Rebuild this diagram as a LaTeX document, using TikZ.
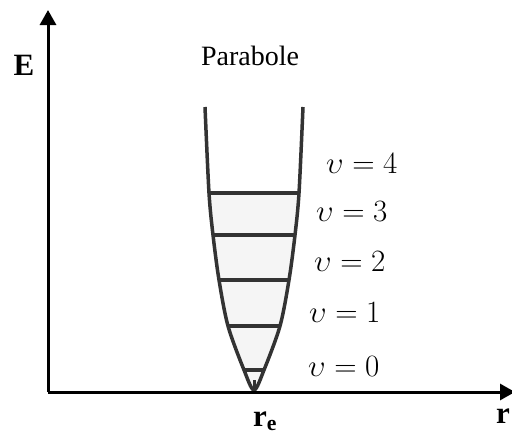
\RequirePackage{fix-cm}
\documentclass[tikz,border=0pt]{standalone}
\usepackage{fontspec}
\setmainfont{Liberation Serif}
\usepackage{tikz}
\usetikzlibrary{arrows.meta}
\tikzstyle{axis}=[line width=3pt, -{Triangle[length=15pt,width=16pt]}]
\tikzstyle{well}=[line width=3.5pt, color=black!80, line join=round]
\tikzstyle{level}=[line width=3.5pt, color=black!80]
\tikzstyle{vlabel}=[anchor=base west, inner sep=0pt, font=\fontsize{31}{33}\selectfont]
\tikzstyle{axlabel}=[inner sep=0pt, font=\fontsize{31}{33}\selectfont\bfseries]

\begin{document}
\begin{tikzpicture}[x=1pt, y=-1pt]
  \useasboundingbox (0,0) rectangle (512,437);
  % axes
  \coordinate (O) at (48,392);
  \coordinate (Etip) at (48,10);
  \coordinate (rtip) at (515,392);
  % light fill between the levels
  \fill[black!4] (209,193) -- (213,235) -- (219,280) -- (228,326) -- (244,370)
    -- (254,390) -- (264,370) -- (280,326) -- (289,280) -- (295,235) -- (299,193) -- cycle;
  % the well
  \draw[well] plot[smooth, tension=0.5] coordinates {(205,107) (209,193) (213,235) (219,280)
    (228,326) (244,370) (254,390) (264,370) (280,326) (289,280) (295,235) (299,193) (303,107)};
  % levels
  \draw[level] (209,193) -- (299,193);
  \draw[level] (213,235) -- (295,235);
  \draw[level] (219,280) -- (289,280);
  \draw[level] (228,326) -- (280,326);
  \draw[level] (244,370) -- (264,370);
  \draw[line width=3pt, black!80] (254,380) -- (254,392);
  \draw[axis] (O) -- (Etip);
  \draw[axis] (O) -- (rtip);
  % labels
  \node[axlabel] (E) at (24,65) {E};
  \node[axlabel, anchor=base west] (r) at (496,423) {r};
  \node[axlabel, anchor=base west] (re) at (253,426) {r\textsubscript{e}};
  \node[anchor=base, inner sep=0pt, font=\fontsize{28}{30}\selectfont] (title) at (250,65) {Parabole};
  \node[vlabel] (v4) at (326,173) {$\upsilon = 4$};
  \node[vlabel] (v3) at (316,221) {$\upsilon = 3$};
  \node[vlabel] (v2) at (314,271) {$\upsilon = 2$};
  \node[vlabel] (v1) at (309,322) {$\upsilon = 1$};
  \node[vlabel] (v0) at (308,376) {$\upsilon = 0$};
\end{tikzpicture}
\end{document}
